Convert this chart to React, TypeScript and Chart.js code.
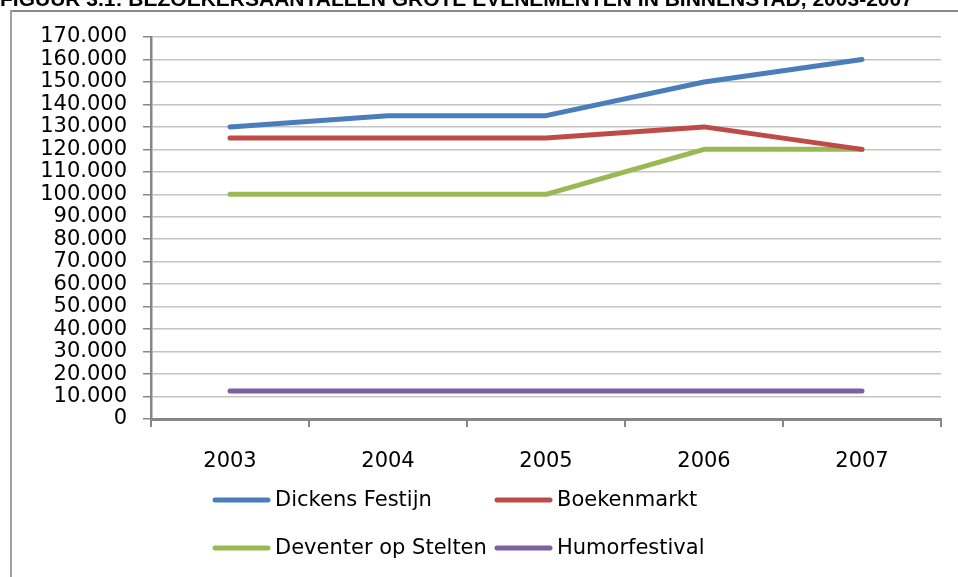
import React, { useEffect, useRef } from "react";
import { Chart, registerables } from "chart.js";

Chart.register(...registerables);

const title = "FIGUUR 3.1: BEZOEKERSAANTALLEN GROTE EVENEMENTEN IN BINNENSTAD, 2003-2007";
const categories = ["2003", "2004", "2005", "2006", "2007"];
const dickensFestijn = [130000, 135000, 135000, 150000, 160000];
const boekenmarkt = [125000, 125000, 125000, 130000, 120000];
const deventerOpStelten = [100000, 100000, 100000, 120000, 120000];
const humorfestival = [12500, 12500, 12500, 12500, 12500];
const yMin = 0;
const yMax = 170000;
const yStep = 10000;

const seriesNames = ["Dickens Festijn", "Boekenmarkt", "Deventer op Stelten", "Humorfestival"];
const seriesColors = ["#4a7ebb", "#be4b48", "#98b954", "#7d60a0"];

const FONT = "'DejaVu Sans', sans-serif";

function fmt(v: number): string {
  if (v === 0) return "0";
  const s = Math.round(v).toString();
  return s.replace(/\B(?=(\d{3})+(?!\d))/g, ".");
}

const framePlugin = {
  id: "frameAndTitle",
  beforeDraw(chart: any) {
    const ctx = chart.ctx;
    ctx.save();
    ctx.lineWidth = 2;
    ctx.strokeStyle = "#8a8a8a";
    ctx.beginPath();
    ctx.moveTo(10, 11);
    ctx.lineTo(chart.width, 11);
    ctx.stroke();
    ctx.strokeStyle = "#a0a0a0";
    ctx.beginPath();
    ctx.moveTo(11, 10);
    ctx.lineTo(11, chart.height);
    ctx.stroke();
    ctx.fillStyle = "#000";
    ctx.font = "bold 21px 'Liberation Sans', sans-serif";
    ctx.textBaseline = "alphabetic";
    ctx.textAlign = "left";
    ctx.fillText(title, 0, 6, 940);
    ctx.restore();
  },
};

const legendPlugin = {
  id: "gridLegend",
  afterDraw(chart: any) {
    const ctx = chart.ctx;
    const area = chart.chartArea;
    ctx.save();
    ctx.font = `21px ${FONT}`;
    ctx.textBaseline = "middle";
    ctx.textAlign = "left";
    chart.data.datasets.forEach((ds: any, i: number) => {
      const col = i % 2;
      const row = Math.floor(i / 2);
      const x0 = area.left + 64 + col * 282;
      const y = area.bottom + 81 + row * 48;
      ctx.strokeStyle = ds.borderColor;
      ctx.lineWidth = 5;
      ctx.lineCap = "round";
      ctx.beginPath();
      ctx.moveTo(x0, y);
      ctx.lineTo(x0 + 53, y);
      ctx.stroke();
      ctx.fillStyle = "#000";
      ctx.fillText(ds.label, x0 + 60, y + 1);
    });
    ctx.restore();
  },
};

export default function App() {
  const ref = useRef<HTMLCanvasElement | null>(null);
  useEffect(() => {
    if (!ref.current) return;
    const series = [dickensFestijn, boekenmarkt, deventerOpStelten, humorfestival];
    const chart = new Chart(ref.current, {
      type: "line",
      data: {
        labels: categories,
        datasets: series.map((d, i) => ({
          label: seriesNames[i],
          data: d,
          borderColor: seriesColors[i],
          backgroundColor: seriesColors[i],
          borderWidth: 5,
          pointRadius: 0,
          tension: 0,
          borderCapStyle: "round",
          borderJoinStyle: "round",
        })),
      },
      options: {
        animation: false,
        responsive: false,
        devicePixelRatio: 1,
        layout: { padding: { left: 0, right: 17, top: 37, bottom: 98 } },
        plugins: { legend: { display: false }, tooltip: { enabled: false } },
        scales: {
          x: {
            offset: true,
            grid: {
              display: true,
              drawOnChartArea: false,
              offset: true,
              tickLength: 8,
              tickColor: "#868686",
              lineWidth: 2,
            },
            border: { color: "#868686", width: 3 },
            ticks: { color: "#000", font: { family: FONT, size: 21 }, padding: 22, maxRotation: 0 },
            afterFit(s: any) {
              s.height = 60;
            },
          },
          y: {
            min: yMin,
            max: yMax,
            grid: { color: "#c4c4c4", lineWidth: 1.5, tickLength: 8, tickColor: "#868686" },
            border: { color: "#868686", width: 2.5 },
            ticks: {
              stepSize: yStep,
              autoSkip: false,
              color: "#000",
              font: { family: FONT, size: 21 },
              padding: 16,
              callback: (v: any) => fmt(Number(v)),
            },
            afterFit(s: any) {
              s.width = 151;
            },
          },
        },
      },
      plugins: [framePlugin, legendPlugin],
    } as any);
    return () => chart.destroy();
  }, []);
  return (
    <div style={{ position: "fixed", left: 0, top: 0, width: 958, height: 577, background: "#fff" }}>
      <canvas ref={ref} width={958} height={577} style={{ display: "block", width: 958, height: 577 }} />
    </div>
  );
}
